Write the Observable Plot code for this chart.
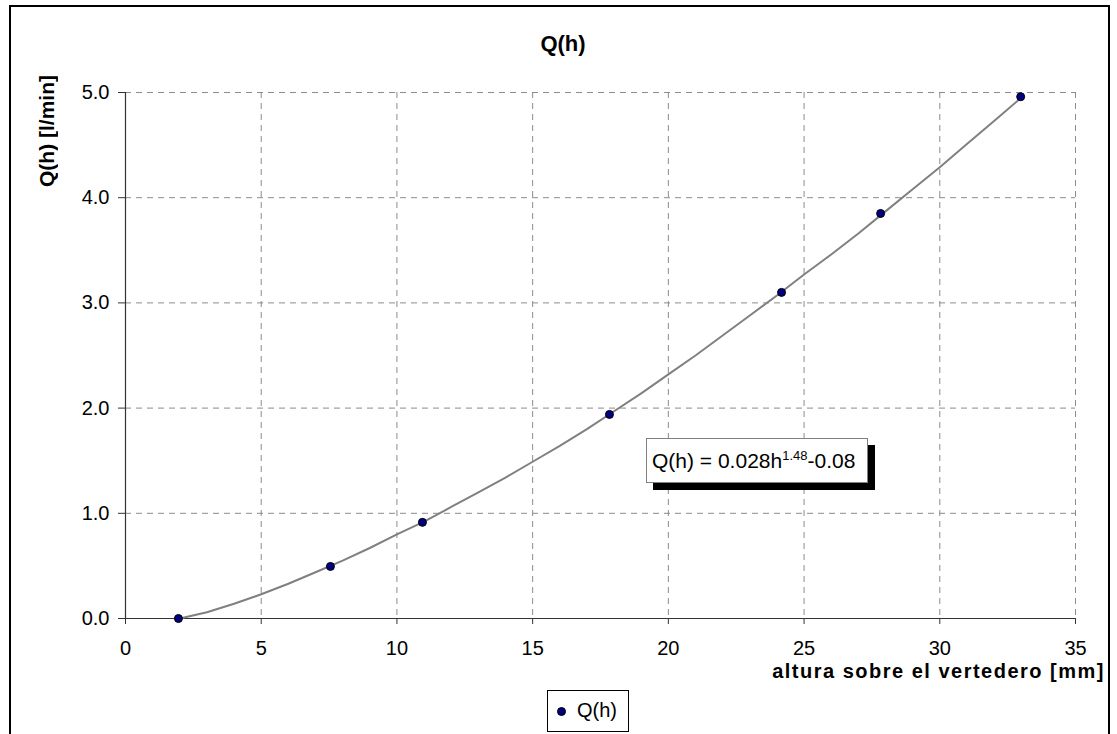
<!DOCTYPE html>
<html><head><meta charset="utf-8">
<script src="https://cdn.jsdelivr.net/npm/d3@7"></script>
<script src="https://cdn.jsdelivr.net/npm/@observablehq/plot@0.6"></script>
<style>
body{margin:0;background:#fff;font-family:"Liberation Sans",Arial,sans-serif;}
#wrap{position:relative;width:1117px;height:734px;overflow:hidden;}
#frame{position:absolute;left:9px;top:5px;width:1101px;height:780px;border:2px solid #000;box-sizing:border-box;pointer-events:none;}
#chart{position:absolute;left:0;top:0;}
#title{position:absolute;left:0;width:1126px;top:31px;text-align:center;font-weight:bold;font-size:22px;}
#ylab{position:absolute;left:36px;top:75px;writing-mode:vertical-rl;transform:rotate(180deg);font-weight:bold;font-size:21px;white-space:nowrap;line-height:22px;}
#xlab{position:absolute;right:12px;top:660px;font-weight:bold;font-size:20px;letter-spacing:1.5px;white-space:nowrap;}
#legend{position:absolute;left:547px;top:690px;width:82px;height:42px;border:1px solid #000;box-sizing:border-box;background:#fff;font-size:20px;}
#legend .dot{position:absolute;left:9px;top:16px;width:7px;height:7px;border-radius:50%;background:#000080;border:0.5px solid #000;}
#legend .lt{position:absolute;left:29px;top:8px;}
#note{position:absolute;left:646px;top:438px;width:222px;height:45px;border:1px solid #808080;box-sizing:border-box;background:#fff;box-shadow:7px 7px 0 #000;font-size:21px;line-height:43px;padding-left:5px;white-space:nowrap;}
#note sup{font-size:13px;vertical-align:0;position:relative;top:-8px;}
</style></head>
<body>
<div id="wrap">
  <div id="chart"></div>
  <div id="frame"></div>
  <div id="title">Q(h)</div>
  <div id="ylab">Q(h) [l/min]</div>
  <div id="xlab">altura sobre el vertedero [mm]</div>
  <div id="note">Q(h) = 0.028h<sup>1.48</sup>-0.08</div>
  <div id="legend"><div class="dot"></div><div class="lt">Q(h)</div></div>
</div>
<script>
// measured points
const hPoints = [1.95, 7.55, 10.94, 17.83, 24.17, 27.82, 32.98];
const qPoints = [0.0, 0.495, 0.914, 1.94, 3.10, 3.85, 4.96];
// trendline
const hCurve = [2,3,4,5,6,7,8,9,10,11,12,13,14,15,16,17,18,19,20,21,22,23,24,25,26,27,28,29,30,31,32,33];
const qCurve = [0.00,0.06,0.14,0.23,0.33,0.44,0.55,0.67,0.80,0.92,1.06,1.20,1.34,1.49,1.64,1.80,1.97,2.14,2.32,2.50,2.69,2.88,3.07,3.27,3.46,3.66,3.87,4.08,4.29,4.51,4.73,4.95];
const xTicks = [0,5,10,15,20,25,30,35];
const yTicks = [0,1,2,3,4,5];

const points = hPoints.map((h,i)=>({h, q:qPoints[i]}));
const curve = hCurve.map((h,i)=>({h, q:qCurve[i]}));

const plot = Plot.plot({
  width: 1117, height: 734,
  marginLeft: 125, marginRight: 42, marginTop: 92, marginBottom: 116,
  style: {fontFamily: '"Liberation Sans", Arial, sans-serif', fontSize: "20px", color: "#000", background: "transparent"},
  x: {domain: [0,35]},
  y: {domain: [0,5]},
  marks: [
    Plot.ruleX(xTicks.filter(d=>d>0), {stroke:"#8c8c8c", strokeWidth:1, strokeDasharray:"6,5"}),
    Plot.ruleY(yTicks.filter(d=>d>0), {stroke:"#8c8c8c", strokeWidth:1, strokeDasharray:"6,5"}),
    Plot.axisX({ticks: xTicks, tickFormat: d=>String(d), tickSize: 6, tickPadding: 16, label: null, stroke:"#333", fontSize: 20}),
    Plot.axisY({ticks: yTicks, tickFormat: d3.format(".1f"), tickSize: 7, tickPadding: 9, label: null, stroke:"#333", fontSize: 20}),
    Plot.ruleX([0], {stroke:"#333", strokeWidth:1.2}),
    Plot.ruleY([0], {stroke:"#333", strokeWidth:1.2}),
    Plot.line(curve, {x:"h", y:"q", stroke:"#808080", strokeWidth:2, curve:"linear"}),
    Plot.dot(points, {x:"h", y:"q", r:4, fill:"#000080", stroke:"#000", strokeWidth:1})
  ]
});
document.getElementById("chart").appendChild(plot);
</script>
</body></html>
